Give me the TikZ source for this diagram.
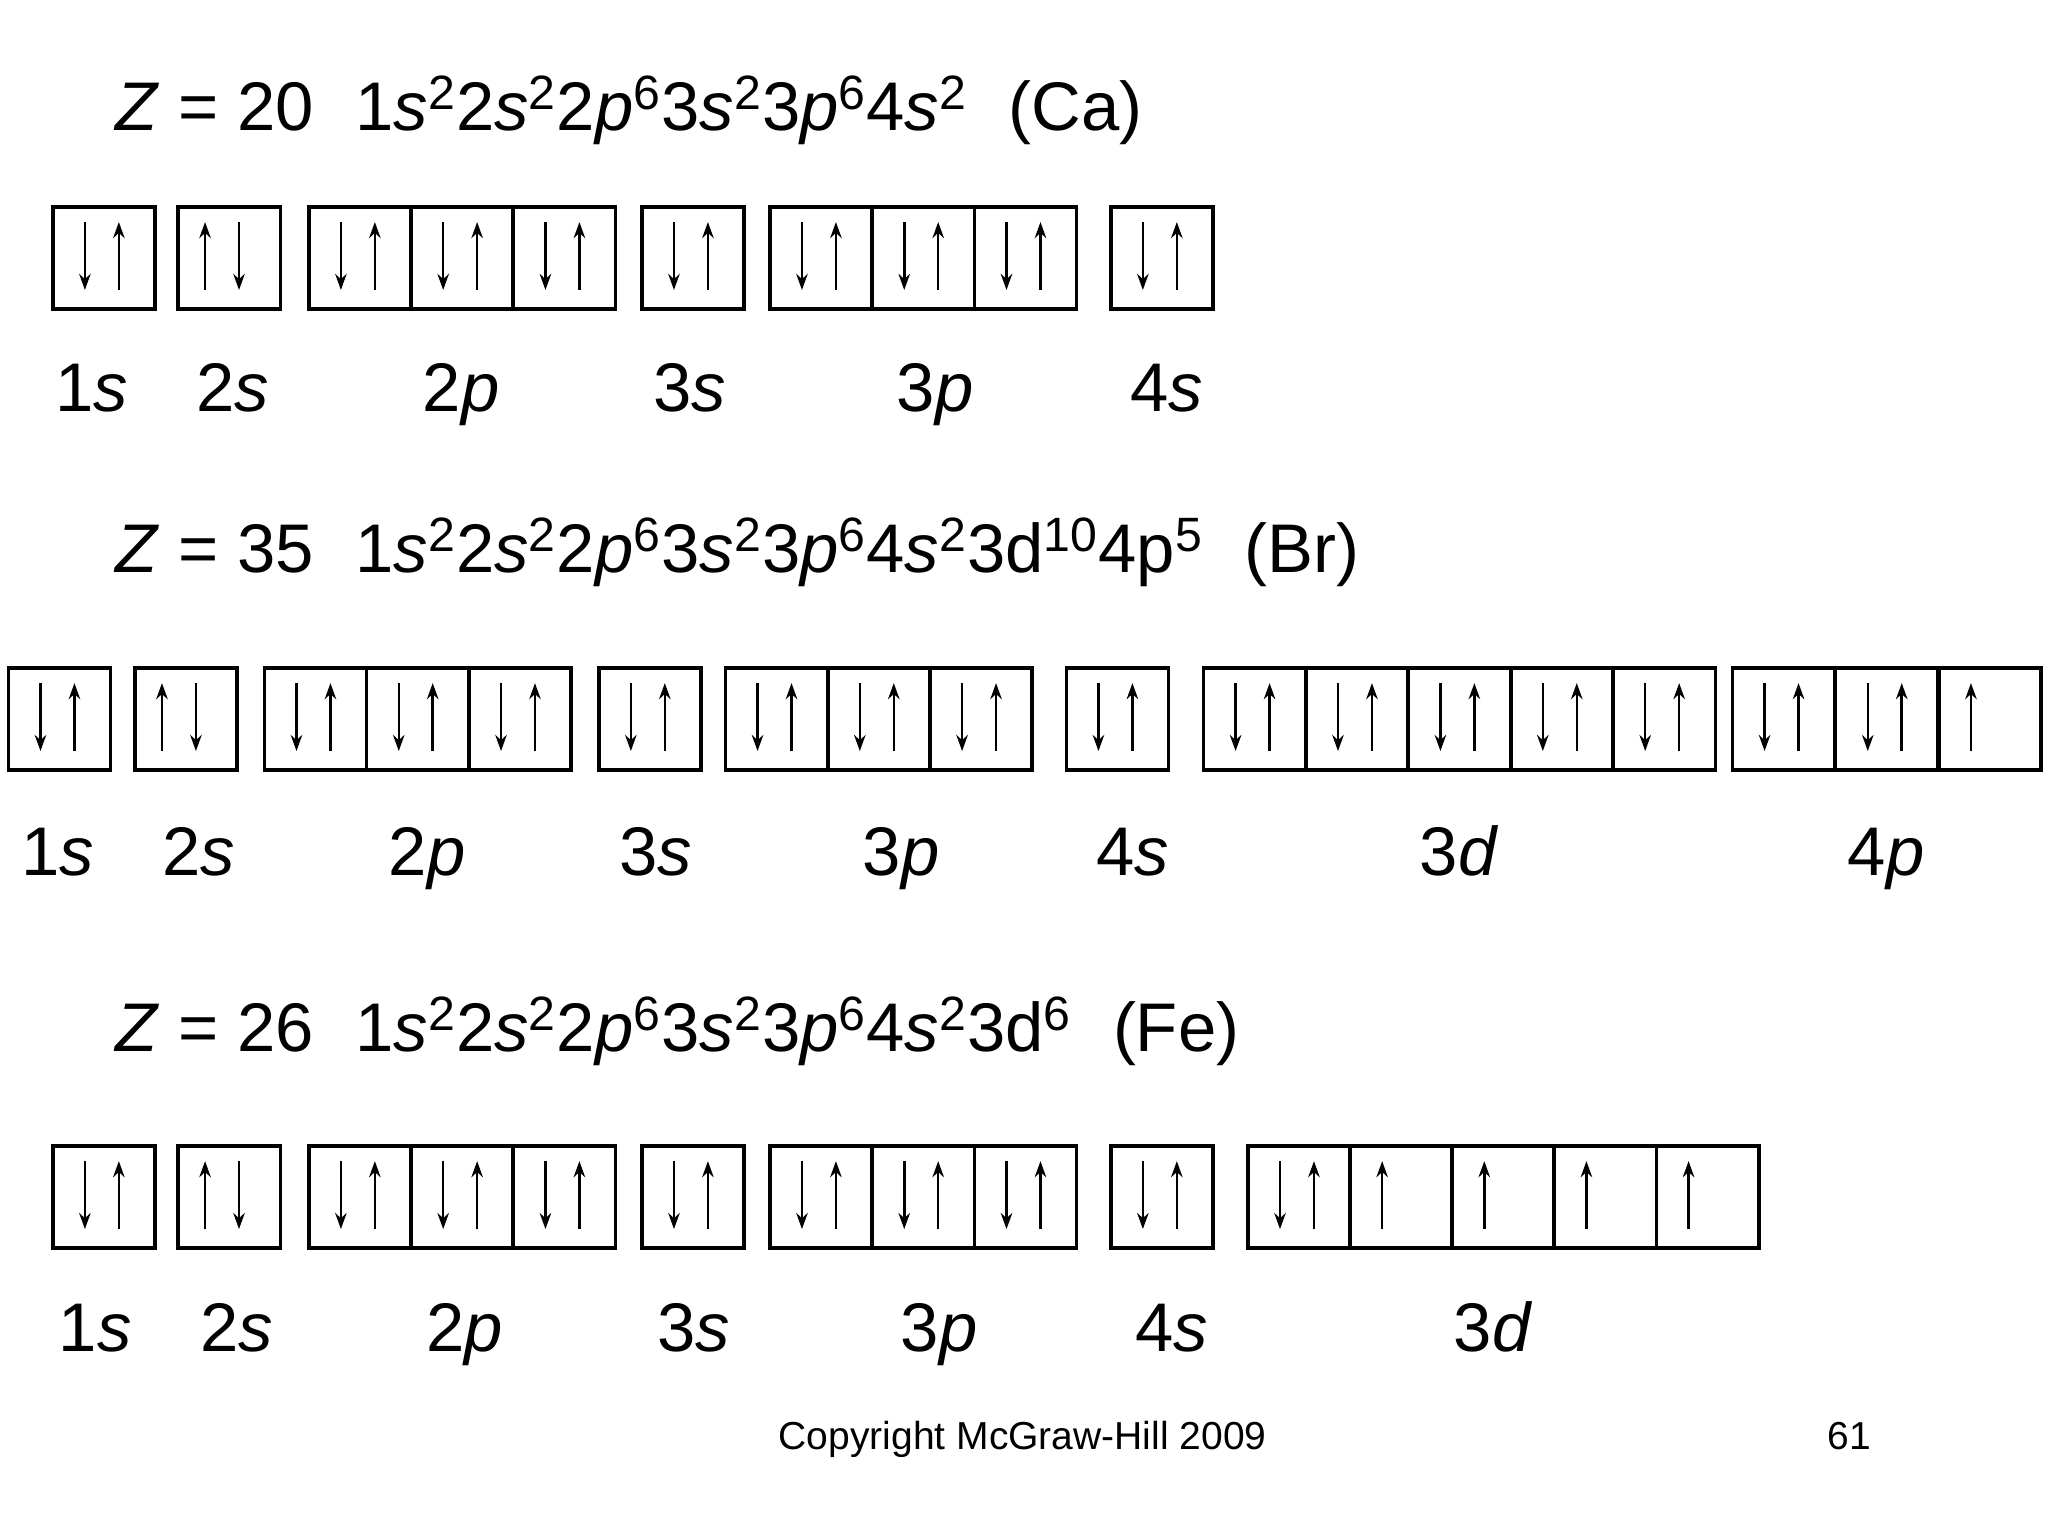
\documentclass[tikz,border=0pt]{standalone}
\usepackage{fontspec}
\setmainfont{Liberation Sans}
\usetikzlibrary{arrows.meta}
\newcommand\orbsp[2]{\textit{#1}\textsuperscript{#2}}
\newcommand\hdr[4]{\node[anchor=base west,font=\fontsize{30}{34}\selectfont] (#4) at (82,#1) {\textit{Z} = #2\hspace{0.6em}#3};}
\tikzset{
 box/.style={draw,line width=1.6pt,minimum width=1.566cm,minimum height=1.56cm,anchor=north west,inner sep=0pt},
 arr/.style={line width=1.1pt,-{Stealth[length=7pt,width=5pt]}},
 lab/.style={anchor=base,font=\fontsize{30}{34}\selectfont},
}
\newcommand\ob[3]{%
 \node[box] (b-#1-#2) at (#1,#2) {};
 \if#3B\draw[arr] (#1+26,#2+13)--(#1+26,#2+65);\draw[arr] (#1+52,#2+65)--(#1+52,#2+13);\fi
 \if#3U\draw[arr] (#1+22,#2+65)--(#1+22,#2+13);\draw[arr] (#1+48,#2+13)--(#1+48,#2+65);\fi
 \if#3S\draw[arr] (#1+26,#2+65)--(#1+26,#2+13);\fi}
\begin{document}
\begin{tikzpicture}[x=0.02cm,y=-0.02cm]
\useasboundingbox (0,0) rectangle (1568,1176);
\hdr{100}{20}{1\orbsp{s}{2}2\orbsp{s}{2}2\orbsp{p}{6}3\orbsp{s}{2}3\orbsp{p}{6}4\orbsp{s}{2}\hspace{0.6em}(Ca)}{h1}
\hdr{438}{35}{1\orbsp{s}{2}2\orbsp{s}{2}2\orbsp{p}{6}3\orbsp{s}{2}3\orbsp{p}{6}4\orbsp{s}{2}3d\textsuperscript{10}4p\textsuperscript{5}\hspace{0.6em}(Br)}{h2}
\hdr{805}{26}{1\orbsp{s}{2}2\orbsp{s}{2}2\orbsp{p}{6}3\orbsp{s}{2}3\orbsp{p}{6}4\orbsp{s}{2}3d\textsuperscript{6}\hspace{0.6em}(Fe)}{h3}
\foreach \x/\t in {39/B,135/U,235/B,313.3/B,391.6/B,490/B,588/B,666.3/B,744.6/B,849/B}{\ob{\x}{157}{\t}}
\foreach \x/\t in {5/B,102/U,201/B,279.3/B,357.6/B,457/B,554/B,632.3/B,710.6/B,815/B,920/B,998.4/B,1076.8/B,1155.2/B,1233.6/B,1325/B,1404/B,1483/S}{\ob{\x}{510}{\t}}
\foreach \x/\t in {39/B,135/U,235/B,313.3/B,391.6/B,490/B,588/B,666.3/B,744.6/B,849/B,954/B,1032.2/S,1110.4/S,1188.6/S,1266.8/S}{\ob{\x}{876}{\t}}
\foreach \x/\n/\o [count=\i] in {70/1/s,178/2/s,353/2/p,528/3/s,716/3/p,893/4/s}{\node[lab] (ca\i) at (\x,315) {\n\textit{\o}};}
\foreach \x/\n/\o [count=\i] in {44/1/s,152/2/s,327/2/p,502/3/s,690/3/p,867/4/s,1117/3/d,1444/4/p}{\node[lab] (br\i) at (\x,670) {\n\textit{\o}};}
\foreach \x/\n/\o [count=\i] in {73/1/s,181/2/s,356/2/p,531/3/s,719/3/p,897/4/s,1143/3/d}{\node[lab] (fe\i) at (\x,1035) {\n\textit{\o}};}
\node[anchor=base,font=\fontsize{17}{20}\selectfont] (cp) at (783,1110) {Copyright McGraw-Hill 2009};
\node[anchor=base,font=\fontsize{17}{20}\selectfont] (pg) at (1416,1110) {61};
\end{tikzpicture}
\end{document}
